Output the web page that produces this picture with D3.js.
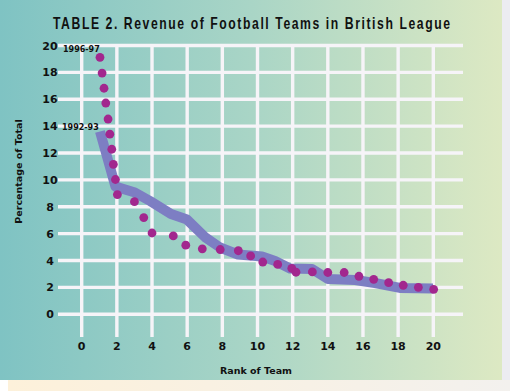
<!DOCTYPE html>
<html>
<head>
<meta charset="utf-8">
<script src="https://cdn.jsdelivr.net/npm/d3@7"></script>
<style>
  body { margin: 0; background: #ffffff; }
  svg { display: block; }
</style>
</head>
<body>
<svg id="chart" width="510" height="391"></svg>
<script>
const title = "TABLE 2. Revenue of Football Teams in British League";
const xTicks = [0, 2, 4, 6, 8, 10, 12, 14, 16, 18, 20];
const yTicks = [0, 2, 4, 6, 8, 10, 12, 14, 16, 18, 20];

// 1992-93 season, drawn as the thick band
const rank9293 = [1.04, 1.92, 3.03, 3.89, 5.08, 5.99, 7.01, 7.87, 8.89, 10.26, 11.0, 11.85, 13.1, 14.01, 15.55, 16.68, 18.1, 19.98];
const pct9293 = [13.6, 9.5, 9.06, 8.43, 7.46, 7.05, 5.75, 4.97, 4.45, 4.3, 3.97, 3.41, 3.37, 2.63, 2.55, 2.33, 1.96, 1.92];

// 1996-97 season, drawn as a dotted line
const rank9697 = [1.04, 1.16, 1.27, 1.37, 1.5, 1.6, 1.71, 1.8, 1.92, 2.03, 3.0, 3.53, 4.0, 5.21, 5.92, 6.86, 7.88, 8.91, 9.61, 10.3, 11.15, 11.95, 12.19, 13.12, 14.0, 14.93, 15.77, 16.61, 17.46, 18.29, 19.15, 20.02];
const pct9697 = [19.12, 17.95, 16.82, 15.72, 14.53, 13.4, 12.28, 11.16, 10.03, 8.91, 8.38, 7.2, 6.05, 5.83, 5.14, 4.87, 4.82, 4.73, 4.34, 3.89, 3.71, 3.42, 3.13, 3.15, 3.11, 3.11, 2.83, 2.6, 2.35, 2.16, 2.01, 1.86];

const svg = d3.select("#chart");

// background pieces
const defs = svg.append("defs");
const grad = defs.append("linearGradient").attr("id", "bg")
  .attr("x1", "0%").attr("x2", "100%").attr("y1", "0%").attr("y2", "0%");
grad.append("stop").attr("offset", "0%").attr("stop-color", "#7fc3c3");
grad.append("stop").attr("offset", "50%").attr("stop-color", "#a9d5c6");
grad.append("stop").attr("offset", "100%").attr("stop-color", "#dde9c3");

const strip = defs.append("linearGradient").attr("id", "strip")
  .attr("x1", "0%").attr("x2", "100%");
strip.append("stop").attr("offset", "0%").attr("stop-color", "#fdf1da");
strip.append("stop").attr("offset", "100%").attr("stop-color", "#f3f1ee");

svg.append("rect").attr("x", 502).attr("y", 0).attr("width", 8).attr("height", 391).attr("fill", "#ececf1");
svg.append("rect").attr("x", 8).attr("y", 380).attr("width", 502).attr("height", 11).attr("fill", "url(#strip)");
svg.append("rect").attr("x", 0).attr("y", 0).attr("width", 502).attr("height", 380).attr("fill", "url(#bg)");

const x = d3.scaleLinear().domain([0, 20]).range([81.7, 433.3]);
const y = d3.scaleLinear().domain([0, 20]).range([314.3, 45.5]);

// grid
svg.append("g").selectAll("line").data(yTicks).join("line")
  .attr("x1", 58).attr("x2", 463)
  .attr("y1", d => y(d)).attr("y2", d => y(d))
  .attr("stroke", "#f6f4f8").attr("stroke-width", 3.4);

svg.append("g").selectAll("line").data(xTicks).join("line")
  .attr("x1", d => x(d)).attr("x2", d => x(d))
  .attr("y1", 45.5).attr("y2", 337)
  .attr("stroke", "#f6f4f8").attr("stroke-width", 3.4);

// tick labels
const heavy = "'DejaVu Sans', Verdana, sans-serif";
svg.append("g").selectAll("text").data(yTicks).join("text")
  .attr("x", 50).attr("y", d => y(d) + 4)
  .attr("text-anchor", "middle")
  .attr("font-family", heavy).attr("font-weight", "bold").attr("font-size", 11)
  .attr("fill", "#111").text(d => d);

svg.append("g").selectAll("text").data(xTicks).join("text")
  .attr("x", d => x(d)).attr("y", 350)
  .attr("text-anchor", "middle")
  .attr("font-family", heavy).attr("font-weight", "bold").attr("font-size", 11)
  .attr("fill", "#111").text(d => d);

// axis titles
svg.append("text").attr("x", 256).attr("y", 373.5)
  .attr("text-anchor", "middle")
  .attr("font-family", heavy).attr("font-weight", "bold").attr("font-size", 9.5)
  .attr("fill", "#111").text("Rank of Team");

svg.append("text").attr("transform", "translate(21.5,171.5) rotate(-90)")
  .attr("text-anchor", "middle")
  .attr("font-family", heavy).attr("font-weight", "bold").attr("font-size", 9.5)
  .attr("fill", "#111").text("Percentage of Total");

// title: condensed glyphs, wide spacing
svg.append("text").attr("transform", "translate(53,28.5) scale(0.74,1)")
  .attr("font-family", "'Liberation Sans', Arial, sans-serif")
  .attr("font-weight", "bold").attr("font-size", 16.5)
  .attr("textLength", 397 / 0.74).attr("lengthAdjust", "spacing")
  .attr("fill", "#111").text(title);

// 1992-93 band
const line = d3.line().x(d => x(d[0])).y(d => y(d[1])).curve(d3.curveLinear);
svg.append("path")
  .datum(d3.zip(rank9293, pct9293))
  .attr("d", line)
  .attr("fill", "none")
  .attr("stroke", "#7d7ec3")
  .attr("stroke-width", 10)
  .attr("stroke-linejoin", "round");

// 1996-97 dots
svg.append("g").selectAll("circle").data(d3.zip(rank9697, pct9697)).join("circle")
  .attr("cx", d => x(d[0])).attr("cy", d => y(d[1]))
  .attr("r", 4.4)
  .attr("fill", "#a2278e");

// series labels
svg.append("text").attr("x", 63).attr("y", 51.5)
  .attr("font-family", heavy).attr("font-weight", "bold").attr("font-size", 8)
  .attr("fill", "#111").text("1996-97");
svg.append("text").attr("x", 62).attr("y", 129.5)
  .attr("font-family", heavy).attr("font-weight", "bold").attr("font-size", 8)
  .attr("fill", "#111").text("1992-93");
</script>
</body>
</html>
